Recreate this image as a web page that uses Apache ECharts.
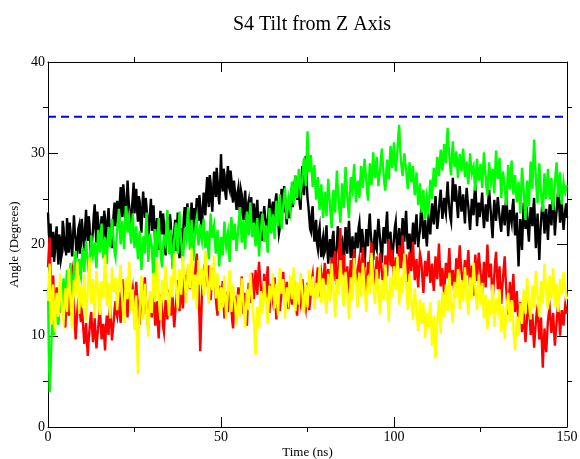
<!DOCTYPE html>
<html>
<head>
<meta charset="utf-8">
<script src="https://cdn.jsdelivr.net/npm/echarts@6/dist/echarts.min.js"></script>
<style>
  html, body { margin: 0; padding: 0; background: #fff; }
  #main { width: 580px; height: 459px; }
</style>
</head>
<body>
<div id="main"></div>
<script>
// tilt angle (degrees), one sample every 0.25 ns from 0 to 150 ns
var dt = 0.25;
var xMax = 150;
var yMax = 40;
var refAngle = 34;

var blackData = [
  23.5, 21.2, 20.1, 22.3, 18.6, 20.0, 21.4, 18.1, 19.2, 21.0, 22.0, 19.5, 17.8, 21.1, 20.5, 18.4, 19.0, 22.6, 21.8, 19.9,
  20.3, 18.8, 22.9, 21.0, 19.1, 22.4, 21.5, 19.6, 18.7, 20.9, 23.2, 21.4, 20.6, 18.5, 19.4, 21.7, 22.1, 19.0, 20.0, 22.8,
  21.7, 20.4, 19.3, 22.0, 23.8, 21.3, 20.4, 23.1, 22.2, 19.7, 18.9, 20.5, 21.6, 23.3, 24.4, 21.7, 20.2, 23.6, 22.5, 20.6,
  19.8, 22.0, 23.1, 20.5, 21.0, 23.7, 22.8, 20.9, 20.1, 22.6, 24.0, 22.3, 21.9, 20.3, 19.6, 22.1, 23.5, 24.6, 22.0, 23.2,
  24.8, 22.9, 21.8, 24.6, 26.3, 24.1, 23.0, 26.6, 25.5, 23.4, 22.1, 24.7, 27.0, 25.1, 23.9, 22.6, 21.7, 24.0, 25.2, 26.8,
  23.4, 24.9, 26.1, 23.8, 22.5, 25.3, 24.7, 22.4, 21.3, 23.9, 25.8, 24.2, 22.9, 25.1, 24.0, 22.2, 20.8, 22.7, 23.6, 25.0,
  21.5, 23.0, 24.3, 21.9, 20.2, 21.8, 22.9, 20.7, 19.4, 22.0, 23.7, 22.1, 21.1, 23.4, 22.4, 19.9, 18.8, 21.6, 23.0, 21.4,
  20.6, 23.3, 22.2, 19.5, 17.6, 20.3, 21.4, 22.7, 19.3, 21.0, 23.5, 20.8, 18.5, 20.1, 21.8, 19.7, 20.0, 22.9, 24.1, 22.6,
  21.9, 24.5, 23.8, 21.6, 20.7, 23.0, 24.6, 22.9, 22.3, 24.0, 21.0, 23.4, 25.1, 23.8, 22.6, 25.4, 24.3, 22.2, 21.5, 24.0,
  25.7, 24.0, 23.2, 25.9, 27.4, 25.0, 24.1, 27.6, 26.8, 24.7, 23.6, 26.1, 28.0, 26.3, 25.2, 28.4, 27.1, 25.5, 24.4, 26.7,
  29.9, 27.0, 25.8, 28.3, 27.7, 25.6, 24.9, 27.3, 28.6, 26.4, 26.0, 28.1, 27.2, 25.3, 24.6, 27.0, 26.9, 24.9, 23.8, 25.6,
  26.2, 24.4, 23.4, 26.0, 25.5, 23.3, 22.7, 24.9, 25.9, 23.7, 22.0, 24.3, 24.8, 22.4, 23.1, 25.2, 21.5, 23.0, 24.5, 22.6,
  22.3, 23.8, 24.9, 22.5, 21.0, 22.8, 23.6, 21.4, 20.4, 23.1, 24.2, 23.0, 22.6, 20.9, 21.3, 23.7, 25.0, 23.3, 22.1, 24.0,
  24.7, 23.1, 22.4, 24.9, 25.6, 23.8, 23.0, 21.2, 21.8, 24.4, 26.1, 24.5, 23.5, 26.4, 25.3, 23.6, 22.2, 23.9, 24.8, 22.9,
  23.6, 25.4, 26.3, 24.1, 24.2, 26.6, 27.5, 25.7, 24.9, 27.2, 26.0, 24.4, 23.8, 26.9, 28.6, 26.5, 25.4, 27.9, 29.7, 27.0,
  25.1, 24.2, 23.0, 21.7, 21.4, 23.5, 24.2, 21.6, 20.3, 22.0, 22.7, 20.1, 19.5, 21.3, 21.9, 19.8, 18.6, 20.2, 20.8, 18.9,
  19.2, 21.0, 22.1, 19.4, 17.9, 19.6, 20.6, 18.9, 18.4, 20.8, 21.5, 19.2, 16.8, 18.7, 19.9, 22.0, 21.2, 19.3, 18.0, 20.1,
  20.4, 18.6, 17.3, 20.3, 21.9, 20.0, 19.0, 21.4, 22.6, 20.2, 18.5, 19.6, 20.9, 18.8, 17.7, 20.0, 21.3, 20.4, 19.6, 21.8,
  22.4, 20.6, 19.1, 21.7, 20.8, 18.7, 17.5, 19.9, 21.7, 20.5, 19.8, 22.1, 23.4, 21.4, 20.2, 19.0, 18.3, 20.4, 21.6, 19.7,
  19.4, 21.3, 22.8, 21.6, 20.5, 19.2, 18.0, 20.3, 21.9, 20.9, 20.1, 22.2, 23.6, 21.0, 19.2, 20.6, 21.4, 19.1, 17.6, 19.5,
  20.7, 21.9, 22.5, 20.4, 19.0, 20.6, 21.8, 19.9, 18.6, 21.1, 22.9, 21.6, 20.3, 22.4, 23.7, 21.3, 19.5, 20.5, 21.2, 19.6,
  18.9, 20.7, 22.4, 21.3, 20.0, 22.1, 23.3, 21.2, 19.7, 20.9, 21.5, 23.4, 24.1, 22.3, 20.6, 21.9, 22.7, 20.9, 19.8, 21.6,
  23.0, 22.4, 21.1, 23.2, 24.5, 23.0, 22.2, 24.1, 25.3, 23.4, 21.7, 22.6, 23.9, 25.1, 26.0, 24.2, 22.8, 23.9, 25.1, 24.0,
  23.4, 25.3, 26.9, 25.1, 24.0, 23.0, 22.5, 25.0, 27.3, 25.6, 24.7, 26.6, 25.8, 24.1, 22.9, 24.8, 26.4, 24.9, 23.6, 24.6,
  25.5, 23.7, 22.3, 24.5, 26.2, 25.0, 24.1, 22.7, 21.6, 23.4, 25.0, 24.3, 23.2, 25.4, 26.7, 24.6, 22.0, 23.5, 24.6, 23.0,
  23.1, 24.6, 25.7, 23.2, 21.8, 23.0, 24.4, 23.5, 22.5, 24.8, 26.0, 24.6, 23.4, 21.9, 20.7, 23.3, 24.9, 23.6, 22.6, 24.0,
  25.2, 24.1, 23.0, 22.1, 21.4, 23.2, 24.3, 23.0, 22.1, 24.2, 25.6, 23.1, 20.9, 22.4, 23.8, 23.0, 22.4, 24.1, 25.0, 22.8,
  21.0, 22.4, 23.5, 20.1, 17.6, 20.4, 22.8, 21.1, 19.4, 22.3, 24.6, 22.9, 21.7, 22.6, 23.2, 21.5, 20.3, 22.6, 24.1, 23.0,
  22.0, 23.9, 25.1, 22.2, 19.6, 21.7, 23.4, 20.6, 18.3, 20.9, 22.6, 23.9, 24.8, 22.8, 21.2, 22.7, 23.9, 22.0, 20.5, 22.8,
  24.4, 23.0, 22.1, 24.2, 25.6, 23.3, 21.0, 22.6, 23.7, 25.0, 26.2, 24.1, 22.4, 23.5, 24.9, 22.9, 21.6, 22.8, 23.8, 24.5,
  22.9
];

var redData = [
  17.5, 19.4, 20.8, 16.3, 14.2, 15.9, 16.6, 14.1, 12.8, 14.4, 15.3, 13.0, 11.6, 13.2, 14.0, 13.3, 12.5, 14.6, 13.7, 12.0,
  10.9, 13.1, 14.6, 13.4, 12.2, 14.0, 15.5, 16.4, 17.0, 14.9, 13.4, 11.5, 9.6, 11.3, 12.8, 13.9, 14.3, 12.6, 11.5, 12.7,
  12.0, 10.5, 9.1, 10.2, 11.4, 9.4, 7.8, 9.5, 10.7, 11.9, 12.6, 10.8, 9.3, 10.4, 11.9, 10.1, 8.6, 9.9, 10.8, 12.1,
  12.9, 11.2, 9.6, 10.5, 11.3, 9.8, 8.4, 10.9, 12.2, 11.0, 10.1, 12.4, 13.4, 11.3, 9.5, 10.6, 11.6, 12.9, 13.8, 12.5,
  12.1, 13.6, 14.8, 12.5, 11.4, 13.9, 16.2, 14.6, 13.3, 14.7, 15.6, 13.4, 12.0, 14.8, 16.9, 15.2, 13.8, 14.4, 15.1, 13.7,
  12.7, 14.6, 15.9, 14.3, 13.5, 12.0, 11.2, 13.6, 14.9, 13.4, 12.3, 14.8, 16.4, 14.2, 13.1, 11.9, 10.7, 12.8, 14.2, 13.1,
  12.0, 13.9, 15.2, 12.8, 11.1, 12.6, 13.8, 11.3, 9.7, 12.4, 14.5, 13.7, 12.6, 11.0, 10.4, 12.3, 13.9, 12.9, 11.8, 13.6,
  15.0, 13.4, 12.2, 13.7, 14.4, 12.3, 10.9, 12.4, 13.5, 15.3, 16.1, 14.2, 12.7, 14.3, 15.4, 14.0, 13.0, 15.1, 16.7, 15.5,
  14.3, 16.2, 17.5, 16.0, 15.1, 17.0, 18.4, 16.3, 14.8, 15.5, 16.6, 18.1, 19.0, 17.2, 15.7, 12.1, 8.3, 11.5, 14.6, 15.9,
  16.8, 17.6, 18.2, 16.5, 15.4, 16.8, 17.7, 15.2, 13.9, 15.5, 16.3, 17.4, 17.3, 15.6, 14.1, 13.0, 12.2, 14.3, 15.5, 14.4,
  13.4, 14.9, 16.0, 13.5, 11.9, 13.6, 14.8, 13.3, 12.6, 14.5, 15.9, 14.7, 13.1, 11.6, 10.8, 12.9, 14.4, 13.0, 12.0, 13.8,
  15.3, 14.4, 13.2, 15.0, 16.5, 14.1, 12.4, 13.8, 14.7, 12.6, 11.1, 13.7, 15.8, 14.6, 13.6, 15.4, 16.9, 15.3, 14.0, 15.6,
  17.2, 15.7, 14.5, 16.6, 18.1, 16.6, 15.4, 14.0, 13.0, 15.1, 16.8, 15.2, 14.2, 16.1, 17.6, 14.8, 12.5, 14.1, 15.7, 14.6,
  13.9, 15.3, 16.4, 13.9, 11.8, 13.5, 15.0, 13.6, 12.7, 13.8, 14.6, 16.0, 17.0, 15.1, 13.3, 14.8, 15.9, 14.2, 12.9, 14.3,
  15.6, 14.6, 13.4, 15.1, 16.6, 15.2, 14.1, 13.0, 12.2, 13.9, 15.3, 14.4, 13.7, 15.0, 16.2, 15.4, 14.5, 13.6, 13.0, 14.6,
  15.8, 14.0, 12.8, 13.7, 14.9, 16.1, 16.7, 15.0, 13.6, 14.6, 15.4, 16.6, 17.5, 15.8, 14.3, 15.7, 16.8, 16.0, 15.1, 16.7,
  18.0, 16.7, 15.6, 16.6, 17.3, 15.8, 14.4, 16.5, 18.6, 17.4, 16.0, 17.8, 19.3, 17.2, 15.5, 16.8, 17.8, 20.0, 21.8, 18.9,
  16.7, 17.9, 18.9, 16.9, 15.2, 16.5, 17.6, 15.9, 14.6, 16.4, 18.3, 17.2, 16.4, 18.0, 19.5, 17.5, 15.8, 16.5, 17.1, 17.9,
  18.5, 17.0, 15.9, 18.0, 19.7, 18.1, 16.6, 15.5, 14.8, 16.6, 18.1, 17.3, 16.9, 18.7, 20.2, 18.6, 17.3, 16.2, 15.4, 17.0,
  18.7, 17.3, 16.2, 17.8, 19.1, 18.0, 17.0, 15.8, 15.0, 17.1, 18.8, 17.5, 16.5, 18.7, 20.6, 19.0, 17.7, 18.6, 19.4, 17.6,
  16.3, 17.6, 18.6, 16.9, 15.6, 17.8, 19.9, 18.4, 17.4, 19.3, 21.0, 18.7, 16.8, 17.9, 18.9, 17.2, 15.9, 17.7, 19.2, 18.1,
  17.1, 18.8, 20.3, 18.0, 16.1, 17.4, 18.4, 16.6, 15.3, 17.3, 19.0, 18.5, 17.6, 16.0, 14.7, 16.5, 18.2, 17.3, 16.5, 18.0,
  19.3, 17.4, 15.8, 16.7, 17.9, 16.2, 14.9, 16.9, 18.7, 17.3, 16.2, 18.2, 20.1, 17.6, 15.4, 16.5, 17.4, 15.8, 14.5, 16.4,
  18.0, 17.0, 16.3, 18.1, 19.6, 17.3, 15.5, 16.4, 17.2, 15.6, 14.2, 16.5, 18.5, 17.4, 16.1, 18.2, 19.9, 18.3, 17.0, 16.2,
  15.7, 17.2, 18.3, 17.3, 16.6, 18.1, 19.4, 17.0, 15.2, 16.6, 17.7, 15.9, 14.4, 16.7, 18.9, 17.3, 16.0, 17.8, 19.1, 18.0,
  16.9, 15.6, 14.6, 16.5, 18.1, 16.7, 15.3, 17.8, 20.0, 17.9, 16.4, 17.3, 17.9, 15.6, 13.8, 15.4, 16.7, 18.2, 19.2, 17.0,
  15.1, 16.4, 17.6, 15.2, 13.5, 15.0, 16.3, 17.6, 18.7, 16.5, 14.8, 13.4, 12.3, 14.3, 15.9, 14.4, 13.2, 15.1, 16.8, 14.5,
  12.6, 13.9, 14.9, 12.8, 11.2, 12.5, 13.7, 12.0, 10.4, 11.8, 12.9, 11.0, 9.3, 10.9, 12.1, 13.2, 13.9, 12.0, 10.1, 11.4,
  12.4, 10.3, 8.7, 10.2, 11.5, 12.6, 13.2, 11.3, 9.6, 10.9, 12.0, 9.1, 6.5, 8.9, 10.8, 9.4, 8.2, 10.0, 11.7, 12.5,
  13.0, 11.6, 10.3, 11.5, 12.5, 10.6, 8.9, 10.3, 11.4, 12.7, 13.6, 11.9, 10.0, 11.5, 12.8, 11.9, 11.1, 12.4, 13.4, 12.9,
  12.4
];

var greenData = [
  15.2, 8.1, 3.8, 6.2, 9.5, 11.6, 12.4, 10.1, 10.8, 12.9, 13.9, 12.0, 11.2, 13.4, 15.0, 13.3, 12.6, 14.8, 16.3, 14.9,
  13.8, 15.6, 17.2, 15.9, 14.6, 16.5, 18.0, 16.3, 15.1, 15.8, 16.9, 18.5, 19.3, 17.1, 15.7, 17.2, 18.4, 17.0, 16.5, 18.3,
  19.6, 18.1, 17.0, 18.9, 20.4, 19.1, 18.2, 17.0, 16.6, 19.2, 21.0, 19.8, 18.9, 19.5, 20.2, 18.6, 17.4, 19.7, 21.6, 20.5,
  19.1, 20.9, 22.3, 20.1, 18.5, 19.7, 20.8, 19.2, 17.9, 20.2, 21.9, 20.6, 19.7, 21.5, 22.8, 21.4, 20.3, 19.1, 18.6, 20.3,
  21.7, 22.8, 23.9, 21.6, 20.0, 21.5, 22.6, 21.0, 19.5, 22.0, 24.2, 22.5, 21.3, 22.3, 22.9, 21.4, 20.1, 21.9, 23.4, 21.3,
  19.6, 20.8, 22.0, 19.9, 18.4, 20.3, 21.5, 19.2, 17.2, 19.0, 20.9, 19.8, 19.0, 21.6, 23.5, 20.6, 18.1, 19.9, 21.2, 20.4,
  19.8, 17.9, 16.4, 19.3, 21.7, 20.0, 18.6, 20.9, 22.9, 21.0, 19.3, 18.2, 17.5, 19.6, 21.1, 20.4, 20.0, 22.1, 23.8, 21.2,
  18.9, 20.4, 21.6, 19.2, 17.3, 18.8, 20.5, 21.6, 22.4, 20.5, 19.0, 21.4, 23.6, 21.8, 20.3, 19.0, 18.0, 19.9, 21.8, 21.1,
  20.6, 22.5, 24.1, 21.6, 19.4, 21.0, 22.7, 20.3, 18.2, 19.9, 21.3, 22.4, 23.0, 21.2, 19.9, 21.1, 22.2, 21.0, 20.4, 21.7,
  22.8, 21.0, 19.6, 20.7, 21.5, 19.8, 18.4, 21.1, 23.4, 22.0, 20.7, 21.6, 22.1, 20.4, 19.0, 20.5, 21.6, 19.4, 17.6, 19.3,
  20.8, 19.7, 18.8, 20.8, 22.5, 21.0, 19.9, 20.7, 21.3, 19.5, 18.1, 20.6, 23.0, 21.6, 20.5, 21.5, 22.3, 20.6, 19.3, 20.6,
  21.8, 23.0, 24.1, 22.0, 20.2, 21.6, 22.7, 21.0, 19.5, 21.7, 23.6, 22.2, 21.0, 23.0, 24.6, 22.5, 20.8, 21.5, 22.4, 21.0,
  19.8, 21.5, 22.9, 20.6, 18.7, 20.2, 21.5, 22.6, 23.4, 21.7, 20.3, 21.3, 22.1, 20.4, 19.1, 21.8, 24.0, 22.5, 21.2, 22.4,
  23.3, 21.8, 20.6, 22.9, 24.8, 23.3, 22.0, 23.9, 25.5, 23.4, 21.7, 23.0, 24.3, 25.4, 26.2, 24.3, 22.8, 24.1, 25.0, 24.3,
  23.7, 25.5, 26.9, 25.4, 24.4, 26.1, 27.6, 26.2, 25.1, 26.8, 28.3, 26.9, 25.8, 26.4, 27.2, 28.6, 29.5, 27.8, 26.4, 29.2,
  32.4, 29.8, 27.9, 28.8, 29.8, 27.9, 26.3, 27.6, 28.7, 26.6, 24.9, 26.3, 27.4, 25.4, 23.8, 25.3, 26.6, 24.6, 22.9, 24.3,
  25.8, 24.3, 23.1, 25.4, 27.2, 25.6, 24.4, 22.9, 21.8, 24.2, 26.0, 24.6, 23.5, 25.9, 28.1, 26.3, 24.9, 23.5, 22.4, 24.6,
  26.7, 25.1, 24.0, 26.4, 28.5, 26.8, 25.3, 24.0, 22.9, 25.2, 27.4, 26.4, 25.9, 27.5, 28.8, 26.5, 24.6, 25.9, 27.0, 26.1,
  25.1, 27.0, 28.6, 27.2, 26.2, 28.0, 29.4, 28.1, 27.0, 25.7, 24.8, 26.9, 28.9, 27.6, 26.5, 28.4, 30.1, 28.5, 27.3, 28.5,
  29.6, 27.8, 26.4, 27.5, 28.2, 29.5, 30.5, 28.9, 27.7, 26.6, 25.9, 27.8, 29.3, 28.0, 27.1, 29.1, 30.8, 29.4, 28.4, 29.9,
  31.2, 29.4, 28.0, 29.1, 30.4, 31.9, 33.1, 30.8, 29.2, 28.3, 27.5, 28.8, 30.0, 29.0, 28.3, 27.0, 26.1, 27.7, 29.0, 27.8,
  26.8, 27.9, 28.6, 26.8, 25.4, 26.5, 27.9, 25.9, 24.3, 25.6, 26.7, 24.9, 23.5, 24.9, 26.0, 24.2, 22.8, 24.0, 25.2, 24.5,
  23.9, 25.6, 27.1, 26.0, 25.0, 26.7, 28.4, 27.3, 26.3, 28.0, 29.6, 28.4, 27.5, 29.0, 30.4, 29.2, 28.1, 29.7, 31.0, 29.6,
  28.9, 31.0, 32.8, 30.9, 29.7, 28.4, 27.6, 29.6, 31.3, 29.7, 28.5, 29.3, 30.2, 28.6, 27.3, 28.7, 29.9, 28.8, 28.0, 29.3,
  30.5, 28.8, 27.4, 28.3, 29.1, 27.5, 26.6, 28.4, 30.0, 28.6, 27.8, 28.3, 28.6, 27.1, 25.9, 27.8, 29.4, 28.0, 27.0, 27.9,
  28.8, 27.3, 26.2, 28.3, 30.1, 28.6, 27.5, 26.2, 25.4, 27.4, 29.0, 27.7, 26.8, 27.6, 28.3, 26.8, 25.6, 28.1, 30.3, 28.6,
  27.2, 28.5, 29.5, 27.2, 25.1, 26.7, 28.0, 27.1, 26.4, 25.1, 24.3, 26.6, 28.7, 27.2, 26.0, 27.8, 29.2, 27.1, 25.5, 26.6,
  27.6, 25.9, 24.6, 25.8, 26.9, 25.0, 23.4, 26.0, 28.4, 27.0, 25.8, 24.1, 22.7, 25.0, 27.0, 25.4, 24.2, 26.8, 29.1, 27.4,
  26.1, 29.0, 31.5, 29.3, 27.4, 25.8, 24.5, 26.8, 28.9, 27.2, 25.7, 24.5, 23.6, 25.9, 27.8, 26.3, 25.0, 26.7, 28.3, 26.4,
  24.9, 26.2, 27.3, 25.4, 23.8, 25.3, 26.6, 28.0, 29.0, 27.0, 25.2, 26.6, 27.9, 26.0, 24.4, 25.7, 26.8, 26.0, 25.7, 26.3,
  26.5
];

var yellowData = [
  13.8, 16.2, 17.9, 14.3, 11.2, 13.5, 15.6, 12.8, 10.4, 12.9, 14.7, 13.3, 12.1, 14.6, 16.8, 14.9, 13.0, 12.0, 11.5, 13.6,
  15.2, 13.8, 12.6, 15.3, 17.4, 15.6, 13.9, 12.1, 10.8, 13.6, 16.1, 15.0, 14.3, 16.5, 18.2, 15.1, 12.4, 14.0, 15.5, 14.4,
  13.1, 15.0, 16.7, 13.9, 11.6, 13.5, 15.0, 17.0, 18.6, 15.8, 13.5, 14.9, 16.2, 13.8, 12.0, 14.7, 17.1, 15.9, 14.6, 13.2,
  12.3, 14.4, 16.0, 15.0, 14.1, 16.7, 18.9, 16.0, 13.3, 14.5, 15.8, 13.7, 11.9, 14.8, 17.5, 16.0, 14.8, 15.7, 16.4, 14.5,
  12.8, 14.1, 15.3, 16.7, 17.8, 15.5, 13.6, 12.4, 11.4, 13.9, 16.3, 15.0, 14.0, 16.2, 18.1, 15.3, 12.7, 13.8, 15.1, 12.6,
  10.6, 12.7, 14.4, 9.6, 5.8, 9.8, 12.9, 14.9, 16.6, 14.0, 11.8, 13.9, 15.7, 14.3, 13.2, 11.4, 9.9, 12.6, 14.9, 13.6,
  12.5, 14.8, 16.9, 15.2, 13.7, 16.1, 18.4, 16.4, 14.6, 13.0, 11.7, 14.0, 16.1, 14.9, 13.9, 15.8, 17.6, 16.2, 15.0, 13.5,
  12.2, 14.5, 16.5, 15.3, 14.2, 16.8, 19.0, 17.0, 15.4, 14.1, 13.0, 15.2, 17.3, 15.8, 14.5, 16.7, 18.7, 17.2, 16.0, 14.7,
  13.6, 15.9, 17.9, 16.4, 15.2, 17.5, 19.6, 16.6, 14.0, 15.5, 16.7, 14.6, 12.9, 15.7, 18.3, 16.9, 15.6, 16.6, 17.4, 15.8,
  14.4, 16.9, 19.2, 17.6, 16.2, 14.8, 13.5, 15.7, 17.7, 16.2, 15.0, 16.9, 18.8, 16.3, 14.1, 15.6, 16.9, 14.6, 12.7, 14.1,
  15.3, 14.2, 13.1, 15.0, 16.6, 14.1, 11.9, 13.4, 14.8, 16.1, 17.2, 14.8, 12.6, 14.2, 15.6, 14.6, 13.8, 12.4, 11.2, 12.9,
  14.5, 13.1, 12.0, 14.3, 16.3, 14.8, 13.4, 12.0, 10.9, 13.1, 15.1, 13.9, 12.8, 15.0, 16.9, 15.4, 14.0, 12.7, 11.6, 9.6,
  7.9, 10.6, 13.2, 11.9, 10.8, 13.0, 14.9, 13.6, 12.4, 14.3, 16.0, 14.7, 13.6, 12.3, 11.3, 13.4, 15.5, 14.8, 14.2, 15.6,
  16.8, 14.7, 13.0, 14.5, 15.7, 13.8, 12.2, 14.9, 17.4, 15.9, 14.6, 15.5, 16.2, 13.9, 11.9, 13.7, 15.3, 14.4, 13.8, 15.3,
  16.6, 15.2, 14.0, 15.8, 17.5, 15.0, 12.7, 14.4, 15.9, 14.6, 13.4, 15.3, 16.9, 15.8, 14.8, 13.5, 12.5, 14.1, 15.6, 14.2,
  13.1, 15.3, 17.2, 15.7, 14.4, 15.6, 16.5, 14.6, 12.9, 14.5, 15.8, 14.9, 14.1, 16.0, 17.6, 15.5, 13.6, 15.1, 16.3, 15.4,
  14.7, 13.4, 12.4, 14.7, 16.8, 15.1, 13.8, 16.0, 17.9, 16.4, 15.1, 13.5, 12.0, 14.2, 16.2, 15.3, 14.5, 16.5, 18.3, 16.8,
  15.4, 14.2, 13.2, 15.2, 17.0, 15.8, 14.9, 13.2, 11.8, 14.1, 16.4, 15.1, 14.0, 16.4, 18.5, 17.0, 15.7, 14.3, 13.1, 15.0,
  16.9, 15.5, 14.3, 16.3, 18.0, 16.5, 15.2, 13.8, 12.6, 14.7, 16.6, 15.6, 14.7, 17.0, 19.1, 17.4, 15.8, 14.5, 13.5, 15.4,
  17.3, 16.0, 14.8, 13.4, 12.3, 14.3, 16.1, 15.0, 13.9, 16.0, 17.8, 16.5, 15.3, 13.3, 11.6, 14.1, 16.4, 15.2, 14.2, 16.0,
  17.6, 16.2, 15.0, 16.9, 18.7, 16.0, 13.4, 15.0, 16.5, 15.5, 14.6, 16.9, 19.0, 17.4, 15.9, 14.3, 12.8, 14.9, 16.8, 15.4,
  14.1, 12.8, 11.7, 13.5, 15.2, 14.0, 12.9, 11.6, 10.5, 12.3, 14.0, 12.6, 11.3, 12.5, 13.6, 11.7, 9.8, 11.2, 12.5, 11.6,
  10.9, 12.4, 13.7, 11.2, 8.9, 10.6, 12.2, 9.8, 7.5, 9.6, 11.6, 12.8, 13.9, 12.0, 10.2, 12.5, 14.8, 13.4, 12.0, 13.9,
  15.6, 14.1, 12.7, 14.8, 16.9, 15.2, 13.5, 12.4, 11.4, 13.7, 15.9, 15.0, 14.2, 15.8, 17.3, 15.1, 12.9, 14.6, 16.1, 14.9,
  13.8, 15.7, 17.5, 16.0, 14.6, 13.4, 12.3, 14.4, 16.4, 15.2, 14.0, 16.0, 18.0, 16.6, 15.2, 13.9, 12.8, 14.8, 16.7, 15.0,
  13.4, 14.6, 15.8, 13.8, 11.9, 13.2, 14.5, 12.5, 10.7, 12.4, 13.9, 13.0, 12.2, 14.0, 15.6, 13.3, 11.0, 12.6, 14.1, 13.3,
  12.6, 13.9, 15.1, 12.7, 10.4, 11.8, 13.3, 11.4, 9.6, 11.3, 12.8, 13.8, 14.7, 13.0, 11.5, 12.8, 13.9, 12.4, 10.9, 9.5,
  8.4, 10.3, 12.1, 11.0, 10.0, 11.9, 13.6, 12.4, 11.3, 13.2, 15.0, 13.6, 12.4, 14.4, 16.3, 15.0, 13.7, 12.6, 11.8, 13.7,
  15.5, 14.2, 13.0, 15.0, 17.1, 15.6, 14.2, 13.1, 12.1, 14.0, 16.0, 14.6, 13.5, 15.8, 17.9, 16.3, 14.8, 13.7, 12.9, 14.8,
  16.6, 15.3, 14.1, 15.9, 17.4, 15.2, 13.2, 14.5, 15.7, 14.1, 12.6, 14.4, 16.2, 15.3, 14.5, 15.8, 17.0, 16.1, 15.3, 14.6,
  14.0
];

function pairs(arr) {
  return arr.map(function (v, i) { return [i * dt, v]; });
}

function lineSeries(name, arr, color) {
  return {
    name: name,
    type: 'line',
    data: pairs(arr),
    showSymbol: false,
    symbol: 'none',
    lineStyle: { color: color, width: 2.4, join: 'miter' },
    itemStyle: { color: color },
    z: 2
  };
}

var serif = 'Liberation Serif';
var black = '#000';
var chart = echarts.init(document.getElementById('main'), null, { renderer: 'canvas' });

// frame axis: major ticks 10px and minor ticks 5px, both pointing into the plot
// (minor ticks ignore axisTick.inside, so their length is negative)
function frameAxis(pos, max, step, showLabels) {
  return {
    type: 'value', position: pos, min: 0, max: max, interval: step,
    axisLine: { show: true, onZero: false, lineStyle: { color: black, width: 1 } },
    axisTick: { show: true, inside: true, length: 10, lineStyle: { color: black, width: 1 } },
    minorTick: { show: true, splitNumber: 2, length: -5, lineStyle: { color: black, width: 1 } },
    axisLabel: { show: showLabels, fontFamily: serif, fontSize: 14, color: black, margin: 3 },
    splitLine: { show: false },
    minorSplitLine: { show: false }
  };
}

var xMain = frameAxis('bottom', xMax, 50, true);
xMain.name = 'Time (ns)';
xMain.nameLocation = 'middle';
xMain.nameGap = 19;
xMain.nameMoveOverlap = false;
xMain.nameTextStyle = { fontFamily: serif, fontSize: 13, color: black };

var yMain = frameAxis('left', yMax, 10, true);
yMain.name = 'Angle (Degrees)';
yMain.nameLocation = 'middle';
yMain.nameGap = 27;
yMain.nameMoveOverlap = false;
yMain.nameTextStyle = { fontFamily: serif, fontSize: 13, color: black };

chart.setOption({
  animation: false,
  backgroundColor: '#fff',
  title: {
    text: 'S4 Tilt from Z Axis',
    left: 307,
    textAlign: 'center',
    top: 10,
    textStyle: { fontFamily: serif, fontSize: 20, fontWeight: 'normal', color: black }
  },
  grid: {
    left: 48, right: 13, top: 62, bottom: 32,
    containLabel: false, outerBoundsMode: 'none',
    show: false
  },
  xAxis: [xMain, frameAxis('top', xMax, 50, false)],
  yAxis: [yMain, frameAxis('right', yMax, 10, false)],
  series: [
    lineSeries('black', blackData, '#000000'),
    lineSeries('red', redData, '#ff0000'),
    lineSeries('green', greenData, '#00ff00'),
    lineSeries('yellow', yellowData, '#ffff00'),
    {
      name: 'reference',
      type: 'line',
      data: [[0, refAngle], [xMax, refAngle]],
      showSymbol: false,
      symbol: 'none',
      lineStyle: { color: '#0000ff', width: 2, type: [8, 5] },
      z: 3
    }
  ]
});
</script>
</body>
</html>
